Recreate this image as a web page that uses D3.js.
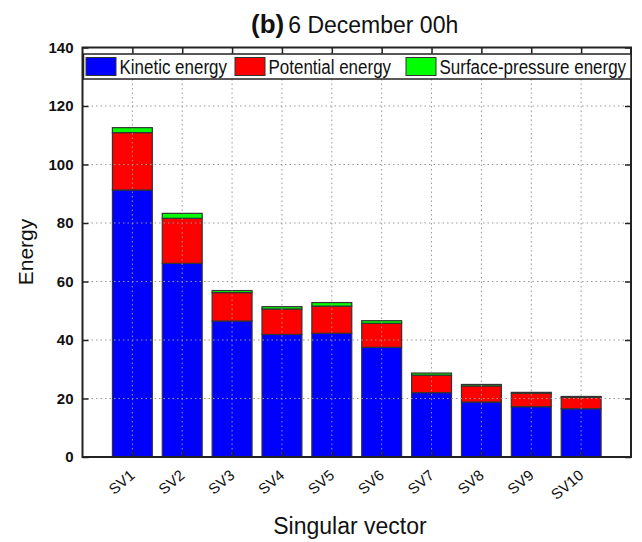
<!DOCTYPE html>
<html><head><meta charset="utf-8">
<script src="https://cdn.jsdelivr.net/npm/d3@7"></script>
<style>body{margin:0;background:#fff}svg{font-family:"Liberation Sans",Arial,sans-serif}</style>
</head><body><svg id="c" width="642" height="542"></svg>
<script>
const categories = ["SV1","SV2","SV3","SV4","SV5","SV6","SV7","SV8","SV9","SV10"];
const kinetic   = [91.3, 66.2, 46.5, 41.9, 42.3, 37.5, 22.0, 18.8, 17.2, 16.5];
const potential = [19.6, 15.4,  9.7,  8.7,  9.3,  8.2,  6.0,  5.5,  4.6,  3.9];
const surface   = [ 1.7,  1.7,  0.7,  0.8,  1.2,  0.9,  0.7,  0.5,  0.3,  0.3];
const seriesNames = ["Kinetic energy","Potential energy","Surface-pressure energy"];
const seriesColors = ["#0000ff","#ff0000","#00ff00"];
const yTicks = [0,20,40,60,80,100,120,140];

const svg = d3.select("#c");
const L = 82.5, R = 631, T = 47.5, B = 457;
const x = d3.scaleLinear().domain([0, 11]).range([L, R]);
const y = d3.scaleLinear().domain([0, 140]).range([B, T]);
const bw = x(0.8) - x(0);

const rows = categories.map((c, i) => ({c, i, k: kinetic[i], p: potential[i], s: surface[i]}));
const stack = d3.stack().keys(["k","p","s"])(rows);

// bars
stack.forEach((layer, li) => {
  svg.append("g").selectAll("rect").data(layer).join("rect")
    .attr("x", d => x(d.data.i + 1) - bw/2)
    .attr("width", bw)
    .attr("y", d => y(d[1]))
    .attr("height", d => y(d[0]) - y(d[1]))
    .attr("fill", seriesColors[li])
    .attr("stroke", "#333").attr("stroke-width", 1.2);
});

// grid (dotted, on top)
const g = svg.append("g").attr("stroke", "#999").attr("stroke-width", 1).attr("stroke-dasharray", "1.5,3");
yTicks.slice(1, -1).forEach(v => g.append("line").attr("x1", L).attr("x2", R).attr("y1", y(v)).attr("y2", y(v)));
categories.forEach((c, i) => g.append("line").attr("x1", x(i+1)).attr("x2", x(i+1)).attr("y1", T).attr("y2", B));

// axes
const yAxisL = d3.axisLeft(y).tickValues(yTicks).tickSize(-6).tickPadding(9);
const yAxisR = d3.axisRight(y).tickValues(yTicks).tickSize(-6).tickFormat("");
const xAxisB = d3.axisBottom(x).tickValues(d3.range(1, 11)).tickSize(-6).tickFormat(d => categories[d-1]);
const xAxisT = d3.axisTop(x).tickValues(d3.range(1, 11)).tickSize(-6).tickFormat("");
function style(sel){ sel.select(".domain").remove(); sel.selectAll("line").attr("stroke","#222").attr("stroke-width",1.5); }
svg.append("g").attr("transform", `translate(${L},0)`).call(yAxisL).call(style)
  .selectAll("text").attr("font-size", 15).attr("font-weight", "bold").attr("fill", "#111")
  .attr("font-family", "'Liberation Sans', Arial, sans-serif");
svg.append("g").attr("transform", `translate(${R},0)`).call(yAxisR).call(style);
svg.append("g").attr("transform", `translate(0,${T})`).call(xAxisT).call(style);
const xb = svg.append("g").attr("transform", `translate(0,${B})`).call(xAxisB).call(style);
xb.selectAll("text").attr("font-size", 15).attr("fill", "#111")
  .attr("font-family", "'Liberation Sans', Arial, sans-serif")
  .attr("text-anchor", "end").attr("x", 0).attr("y", 0).attr("dy", 0)
  .attr("transform", "translate(3,20) rotate(-40)");
svg.append("rect").attr("x", L).attr("y", T).attr("width", R-L).attr("height", B-T)
  .attr("fill", "none").attr("stroke", "#222").attr("stroke-width", 2);

// legend
const lg = svg.append("g");
lg.append("rect").attr("x", L+1).attr("y", 54).attr("width", R-L-1).attr("height", 25)
  .attr("fill", "#fff").attr("stroke", "#222").attr("stroke-width", 1.5);
const legX = [86, 235, 406];
seriesNames.forEach((n, i) => {
  lg.append("rect").attr("x", legX[i]).attr("y", 57.5).attr("width", 30).attr("height", 18)
    .attr("fill", seriesColors[i]).attr("stroke", "#333").attr("stroke-width", 1);
  lg.append("text").attr("transform", `translate(${legX[i] + 33.5},74) scale(0.87,1)`)
    .attr("font-size", 19.5).attr("fill", "#111").text(n);
});

// title
const t = svg.append("text").attr("x", 251).attr("y", 33).attr("fill", "#111");
t.append("tspan").attr("font-weight", "bold").attr("font-size", 26).text("(b)");
t.append("tspan").attr("font-size", 23).attr("dx", 4).text("6 December 00h");

// axis labels
svg.append("text").attr("transform", "translate(33,252) rotate(-90)").attr("text-anchor", "middle")
  .attr("font-size", 21).attr("fill", "#111").text("Energy");
svg.append("text").attr("x", 350).attr("y", 534).attr("text-anchor", "middle")
  .attr("font-size", 23).attr("fill", "#111").text("Singular vector");
</script></body></html>
